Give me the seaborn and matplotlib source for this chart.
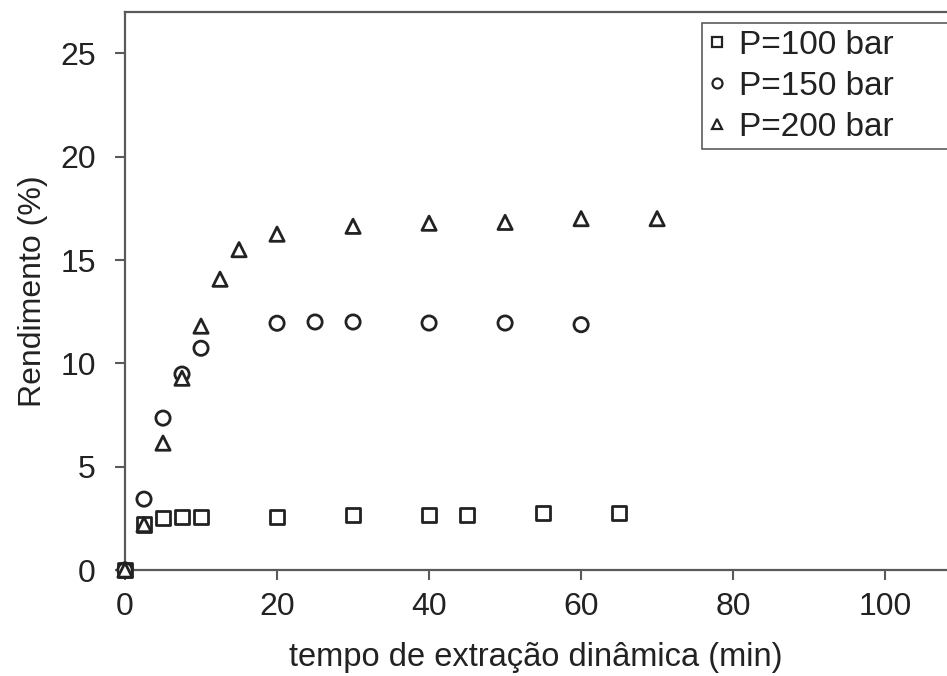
import matplotlib
matplotlib.use("Agg")
import matplotlib.pyplot as plt
import seaborn as sns
import pandas as pd

t100 = [0, 2.5, 5, 7.5, 10, 20, 30, 40, 45, 55, 65]
y100 = [0, 2.2, 2.5, 2.55, 2.55, 2.55, 2.65, 2.65, 2.65, 2.75, 2.75]
t150 = [0, 2.5, 5, 7.5, 10, 20, 25, 30, 40, 50, 60]
y150 = [0, 3.43, 7.35, 9.48, 10.73, 11.94, 12.0, 12.0, 11.95, 11.95, 11.87]
t200 = [0, 2.5, 5, 7.5, 10, 12.5, 15, 20, 30, 40, 50, 60, 70]
y200 = [0, 2.2, 6.14, 9.28, 11.8, 14.07, 15.5, 16.25, 16.63, 16.78, 16.82, 17.0, 17.0]
labels = ["P=100 bar", "P=150 bar", "P=200 bar"]
xticks = [0, 20, 40, 60, 80, 100]
yticks = [0, 5, 10, 15, 20, 25]

df = pd.concat([
    pd.DataFrame({"t": t100, "y": y100, "s": labels[0]}),
    pd.DataFrame({"t": t150, "y": y150, "s": labels[1]}),
    pd.DataFrame({"t": t200, "y": y200, "s": labels[2]}),
])

sns.set_style("white")
plt.rcParams["font.family"] = ["Liberation Sans", "DejaVu Sans"]

fig = plt.figure(figsize=(9.47, 6.76), dpi=100)
ax = fig.add_axes([125/947, 1 - 570/676, (946-125)/947, (570-12)/676])

ink = "#222222"
txtc = "#222222"
spc = "#5a5a5a"
sns.scatterplot(data=df, x="t", y="y", style="s", style_order=labels,
                markers={labels[0]: "s", labels[1]: "o", labels[2]: "^"},
                s=105, facecolor="white", edgecolor=ink, linewidth=2.0,
                color=ink, ax=ax, legend=True, zorder=3, clip_on=False)

ax.set_xlim(0, 108)
ax.set_ylim(0, 27)
ax.set_xticks(xticks)
ax.set_yticks(yticks)
ax.tick_params(axis="both", which="major", bottom=True, left=True,
               direction="out", length=7, width=1.5, color=spc,
               labelsize=23, labelcolor=txtc)
ax.tick_params(axis="y", pad=14)
ax.tick_params(axis="x", pad=9)
for sp in ax.spines.values():
    sp.set_color(spc)
    sp.set_linewidth(1.6)
ax.spines["right"].set_visible(False)

ax.set_xlabel("tempo de extração dinâmica (min)", fontsize=23.5, color=txtc, labelpad=14)
ax.set_ylabel("Rendimento (%)", fontsize=23, color=txtc, labelpad=9)

handles, lbls = ax.get_legend_handles_labels()
for h in handles:
    h.set_markerfacecolor("white")
    h.set_markeredgecolor(ink)
    h.set_markeredgewidth(1.6)
x0 = (702 - 125) / 821
y1 = (570 - 23) / 558
y0 = (570 - 152) / 558
leg = ax.legend(handles, lbls, loc="upper left", bbox_to_anchor=(x0, y0, 1.01 - x0, y1 - y0),
                mode="expand", fontsize=24, frameon=True, fancybox=False, edgecolor="#333333",
                markerscale=0.7, handletextpad=0.4, handlelength=0.5,
                labelspacing=0.3, borderpad=0.2, borderaxespad=0)
leg.get_frame().set_linewidth(1.2)
for txt in leg.get_texts():
    txt.set_color(txtc)

fig.savefig("out.png", dpi=100)
